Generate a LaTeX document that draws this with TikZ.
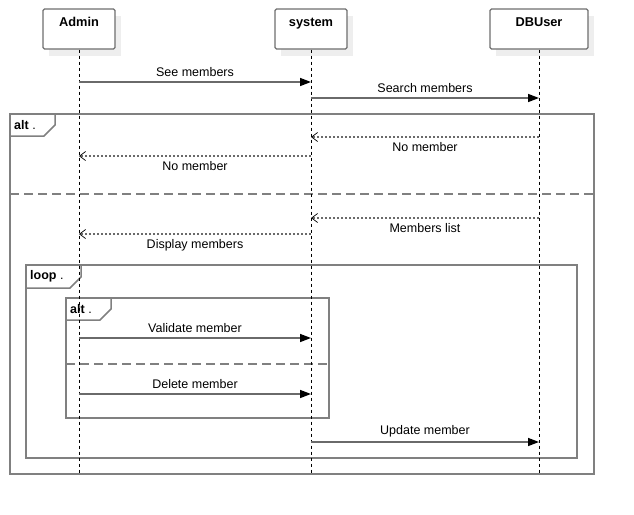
\documentclass[tikz,border=0pt]{standalone}
\usepackage{fontspec}
\setmainfont{Liberation Sans}
\usetikzlibrary{arrows.meta}
\definecolor{framegray}{HTML}{808080}
\definecolor{boxgray}{HTML}{6E6E6E}
\definecolor{shadowgray}{HTML}{EEEEEE}
\definecolor{msggray}{HTML}{6A6A6A}
\begin{document}
\begin{tikzpicture}[x=1pt,y=-1pt,
  actor/.style={draw=boxgray, line width=1.2pt, rounded corners=1.5pt, fill=white,
    inner xsep=0pt, inner ysep=0pt, text height=18pt, text depth=22pt,
    font=\bfseries\fontsize{12.8}{14}\selectfont},
  lifeline/.style={black, line width=0.7pt, dash pattern=on 3pt off 3pt},
  call/.style={msggray, line width=1.5pt, -{Triangle[length=11pt,width=8pt,black]}},
  reply/.style={msggray, line width=1.2pt, dash pattern=on 2pt off 2pt,
    -{Straight Barb[length=6pt,width=9pt,black,line width=0.7pt]}},
  frame/.style={framegray, line width=1.5pt},
  sep/.style={framegray, line width=1.5pt, dash pattern=on 9pt off 5pt},
  lbl/.style={font=\fontsize{12.5}{14}\selectfont, text=black, inner sep=0pt},
  tablbl/.style={font=\fontsize{12.5}{14}\selectfont, text=black, inner sep=0pt, anchor=west}
]
\useasboundingbox (0,0) rectangle (634,514);

% shadows
\fill[shadowgray] (49,16) rectangle (121,56);
\fill[shadowgray] (281,16) rectangle (353,56);
\fill[shadowgray] (496,16) rectangle (594,56);

% actors
\node[actor, minimum width=72pt] (admin) at (79,29) {Admin};
\node[actor, minimum width=72pt] (system) at (311,29) {system};
\node[actor, minimum width=98pt] (dbuser) at (539,29) {DBUser};

\coordinate (adminEnd) at (79,474);
\coordinate (systemEnd) at (311,474);
\coordinate (dbuserEnd) at (539,474);

% frames
\draw[frame] (10,114) rectangle (594,474);
\draw[frame] (10,136) -- (44,136) -- (55,125) -- (55,114);
\node[tablbl] (alt1) at (14,125) {\textbf{alt} .};
\draw[sep] (10,194) -- (594,194);

\draw[frame] (26,265) rectangle (577,458);
\draw[frame] (26,288) -- (70,288) -- (81,277) -- (81,265);
\node[tablbl] (loop1) at (30,276) {\textbf{loop} .};

\draw[frame] (66,298) rectangle (329,418);
\draw[frame] (66,320) -- (100,320) -- (111,309) -- (111,298);
\node[tablbl] (alt2) at (70,309) {\textbf{alt} .};
\draw[sep] (66,364) -- (329,364);

% lifelines
\draw[lifeline] (admin.south) -- (adminEnd);
\draw[lifeline] (system.south) -- (systemEnd);
\draw[lifeline] (dbuser.south) -- (dbuserEnd);

% message anchor points
\coordinate (a1) at (79,82);   \coordinate (s1) at (311,82);
\coordinate (s2) at (311,98);  \coordinate (d2) at (539,98);
\coordinate (d3) at (539,137); \coordinate (s3) at (311,137);
\coordinate (s4) at (311,156); \coordinate (a4) at (79,156);
\coordinate (d5) at (539,218); \coordinate (s5) at (311,218);
\coordinate (s6) at (311,234); \coordinate (a6) at (79,234);
\coordinate (a7) at (79,338);  \coordinate (s7) at (311,338);
\coordinate (a8) at (79,394);  \coordinate (s8) at (311,394);
\coordinate (s9) at (311,442); \coordinate (d9) at (539,442);

% messages
\draw[call] (a1) -- node[lbl, above=5pt] (l1) {See members} (s1);
\draw[call] (s2) -- node[lbl, above=5pt] (l2) {Search members} (d2);
\draw[reply] (d3) -- node[lbl, below=5pt] (l3) {No member} (s3);
\draw[reply] (s4) -- node[lbl, below=5pt] (l4) {No member} (a4);
\draw[reply] (d5) -- node[lbl, below=5pt] (l5) {Members list} (s5);
\draw[reply] (s6) -- node[lbl, below=5pt] (l6) {Display members} (a6);
\draw[call] (a7) -- node[lbl, above=5pt] (l7) {Validate member} (s7);
\draw[call] (a8) -- node[lbl, above=5pt] (l8) {Delete member} (s8);
\draw[call] (s9) -- node[lbl, above=4pt] (l9) {Update member} (d9);
\end{tikzpicture}
\end{document}
